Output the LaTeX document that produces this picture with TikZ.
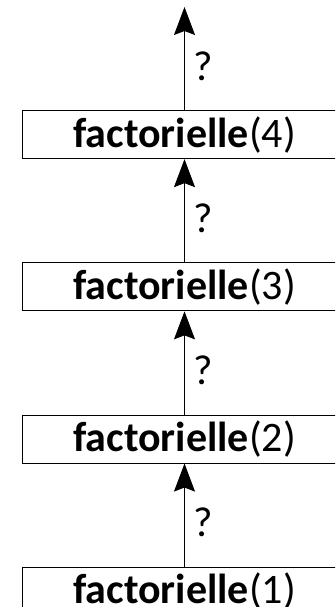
\documentclass[tikz,border=0pt]{standalone}
\usepackage{fontspec}
\setmainfont{Carlito}
\usetikzlibrary{positioning, arrows.meta}

\begin{document}
\begin{tikzpicture}[x=1pt, y=1pt,
    appel/.style={draw, rectangle, line width=0.9pt, minimum width=325pt,
      minimum height=48pt, inner sep=0pt, font=\fontsize{42}{50}\selectfont},
    retour/.style={-{Stealth[length=28pt, width=21pt, inset=4pt]}, line width=0.9pt},
    inconnu/.style={inner sep=0pt, font=\fontsize{42}{50}\selectfont}]
  \useasboundingbox (0,0) rectangle (335,-607);
  \clip (0,0) rectangle (335,-607);
  \node[appel] (F4) at (184.5,-134.7) {\textbf{factorielle}(4)};
  \node[appel, below=103.3pt of F4] (F3) {\textbf{factorielle}(3)};
  \node[appel, below=103.3pt of F3] (F2) {\textbf{factorielle}(2)};
  \node[appel, below=103.3pt of F2] (F1) {\textbf{factorielle}(1)};
  \coordinate (haut) at (184.5,-7);
  \draw[retour] (F1) -- (F2) node[inconnu, pos=0.43, right=9pt] {?};
  \draw[retour] (F2) -- (F3) node[inconnu, pos=0.43, right=9pt] {?};
  \draw[retour] (F3) -- (F4) node[inconnu, pos=0.43, right=9pt] {?};
  \draw[retour] (F4) -- (haut) node[inconnu, pos=0.43, right=9pt] {?};
\end{tikzpicture}
\end{document}
